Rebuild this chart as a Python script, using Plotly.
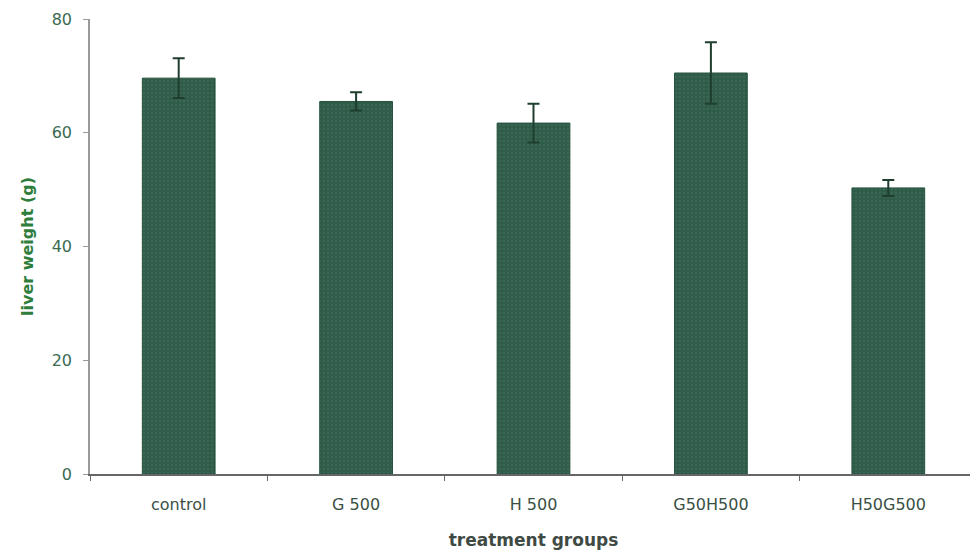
import plotly.graph_objects as go

categories = ["control", "G 500", "H 500", "G50H500", "H50G500"]
liver_weight = [69.6, 65.5, 61.7, 70.5, 50.3]
error_sd = [3.5, 1.6, 3.4, 5.4, 1.4]
y_ticks = [0, 20, 40, 60, 80]

fig = go.Figure()
fig.add_trace(go.Bar(
    x=categories,
    y=liver_weight,
    width=0.41,
    marker=dict(
        color="#2e5c49",
        line=dict(color="#24523c", width=1),
        pattern=dict(shape=".", fgcolor="#4d7064", bgcolor="#2e5c49", size=4, solidity=0.3),
    ),
    error_y=dict(type="data", array=error_sd, visible=True,
                 color="#1e3f2e", thickness=2, width=6),
))

fig.update_layout(
    width=970, height=542,
    margin=dict(l=82, r=1, t=11, b=76),
    paper_bgcolor="white", plot_bgcolor="white",
    showlegend=False,
    font=dict(family="DejaVu Sans, sans-serif"),
    xaxis=dict(
        showline=True, linecolor="#666666", linewidth=1.5,
        ticks="outside", ticklen=5, tickcolor="#666666", tickson="boundaries",
        ticklabelstandoff=15,
        tickfont=dict(size=16, color="#3a4f44"),
        title=dict(text="<b>treatment groups</b>", font=dict(size=17, color="#3f4a44"), standoff=21),
        showgrid=False,
    ),
    yaxis=dict(
        range=[0, 80], tickvals=y_ticks,
        showline=True, linecolor="#999999", linewidth=1.5,
        ticks="outside", ticklen=5, tickcolor="#999999",
        ticklabelstandoff=8,
        tickfont=dict(size=16, color="#3a6a52"),
        title=dict(text="<b>liver weight (g)</b>", font=dict(size=16, color="#2f7d3c"), standoff=14),
        showgrid=False, zeroline=False,
    ),
)

fig.write_html("out.html")
